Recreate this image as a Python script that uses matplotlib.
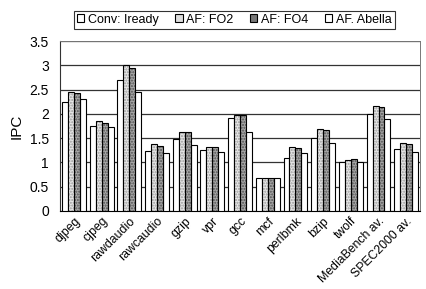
import matplotlib
matplotlib.use("Agg")
import matplotlib.pyplot as plt
from matplotlib.patches import Patch
import numpy as np

plt.rcParams['font.family'] = ['Liberation Sans', 'DejaVu Sans']

categories = ["djpeg", "cjpeg", "rawdaudio", "rawcaudio", "gzip", "vpr", "gcc",
              "mcf", "perlbmk", "bzip", "twolf", "MediaBench av.", "SPEC2000 av."]
series_names = ["Conv: Iready", "AF: FO2", "AF: FO4", "AF. Abella"]
conv_iready = [2.24, 1.76, 2.69, 1.24, 1.48, 1.26, 1.91, 0.67, 1.10, 1.50, 1.01, 2.00, 1.28]
af_fo2      = [2.45, 1.85, 3.00, 1.38, 1.63, 1.32, 1.98, 0.67, 1.31, 1.69, 1.06, 2.17, 1.39]
af_fo4      = [2.43, 1.82, 2.95, 1.33, 1.63, 1.31, 1.97, 0.67, 1.30, 1.66, 1.07, 2.14, 1.37]
af_abella   = [2.31, 1.72, 2.45, 1.19, 1.35, 1.22, 1.62, 0.67, 1.20, 1.41, 1.01, 1.90, 1.21]
yticks = [0, 0.5, 1, 1.5, 2, 2.5, 3, 3.5]
ytick_labels = ["0", "0.5", "1", "1.5", "2", "2.5", "3", "3.5"]

fig = plt.figure(figsize=(4.26, 2.89), dpi=100)
ax = fig.add_axes([0.141, 0.270, 0.845, 0.588])

series = [conv_iready, af_fo2, af_fo4, af_abella]
faces = ["white", "#e6e6e6", "#a8a8a8", "white"]
hatch_cols = [None, "#9a9a9a", "#505050"]
hatches = [None, "......", "......", None]
x = np.arange(len(categories))
w = 0.215
for i, vals in enumerate(series):
    pos = x + (i - 1.5) * w
    if hatches[i]:
        ax.bar(pos, vals, width=w, facecolor=faces[i], edgecolor=hatch_cols[i],
               linewidth=0, hatch=hatches[i], zorder=3)
        ax.bar(pos, vals, width=w, facecolor="none", edgecolor="black",
               linewidth=0.8, zorder=4)
    else:
        ax.bar(pos, vals, width=w, facecolor=faces[i], edgecolor="black",
               linewidth=0.8, zorder=3)

ax.set_ylim(0, 3.5)
ax.set_xlim(-0.5, len(categories) - 0.5)
ax.set_yticks(yticks)
ax.set_yticklabels(ytick_labels, fontsize=10)
ax.set_xticks(x)
ax.set_xticklabels(categories, rotation=45, ha="right", rotation_mode="anchor", fontsize=8.8)
ax.tick_params(axis="x", length=0, pad=3)
ax.tick_params(axis="y", length=0, pad=8)
ax.yaxis.grid(True, color="#333333", linewidth=0.9, zorder=0)
ax.set_axisbelow(True)
ax.set_ylabel("IPC", fontsize=11, labelpad=4)
for s in ["top", "right"]:
    ax.spines[s].set_color("#777777")
    ax.spines[s].set_linestyle((0, (1, 1)))
    ax.spines[s].set_linewidth(0.7)
ax.spines["left"].set_color("#333333")
ax.spines["bottom"].set_color("black")

legend_faces = ["white", "#dddddd", "#777777", "white"]
handles = [Patch(facecolor=fc, edgecolor="black", linewidth=0.8) for fc in legend_faces]
leg = fig.legend(handles, series_names, loc="upper center", bbox_to_anchor=(0.55, 0.985),
                 ncol=4, fontsize=9, frameon=True, fancybox=False, edgecolor="black",
                 handlelength=0.6, handleheight=0.6, handletextpad=0.3, columnspacing=1.3,
                 borderpad=0.25)
leg.get_frame().set_linewidth(0.8)

fig.savefig("out.png", dpi=100)
